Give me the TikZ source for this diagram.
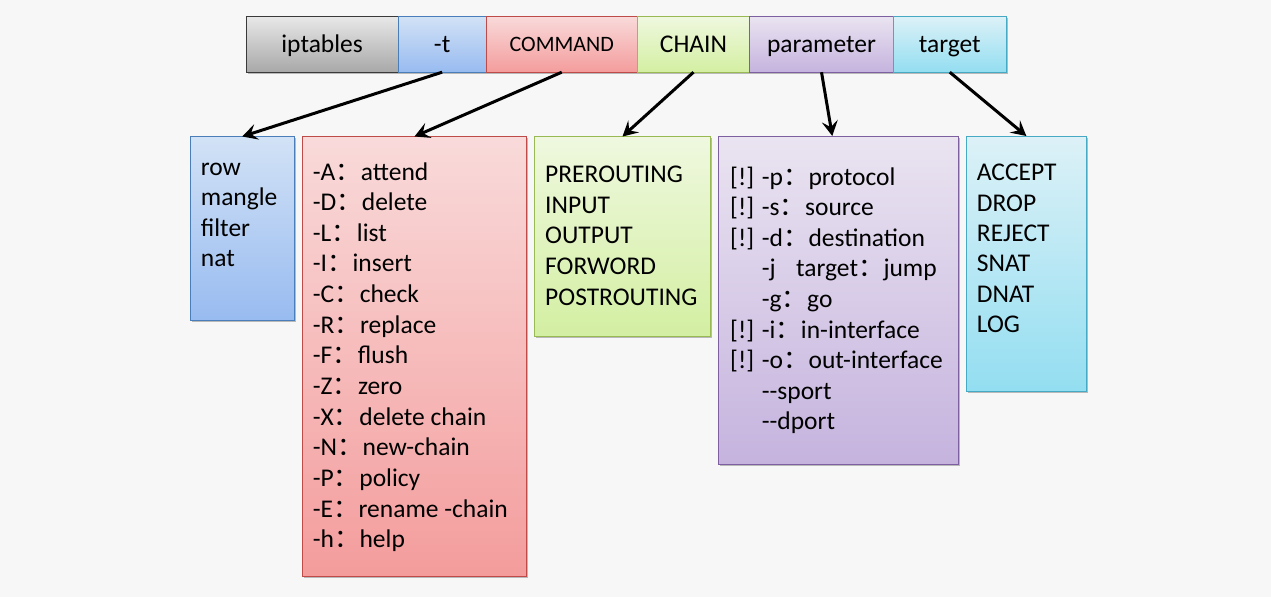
\documentclass[tikz,border=0pt]{standalone}
\usepackage{fontspec}
\setmainfont{Carlito}
\newfontfamily\cjk{Noto Sans CJK SC}
\newcommand\fc{{\cjk ：}}
\usetikzlibrary{arrows.meta,shadows}
\definecolor{bg}{HTML}{F7F7F7}
\definecolor{grT}{HTML}{E8E8E8}\definecolor{grB}{HTML}{A8A8A8}\definecolor{grD}{HTML}{3A3A3A}
\definecolor{blT}{HTML}{D2E2F6}\definecolor{blB}{HTML}{98BBF0}\definecolor{blD}{HTML}{4A7EBB}
\definecolor{rdT}{HTML}{F9DADA}\definecolor{rdB}{HTML}{F49C9C}\definecolor{rdD}{HTML}{BE4B48}
\definecolor{gnT}{HTML}{EFF8DF}\definecolor{gnB}{HTML}{D3EFA2}\definecolor{gnD}{HTML}{98B954}
\definecolor{puT}{HTML}{EAE4F1}\definecolor{puB}{HTML}{C5B3DE}\definecolor{puD}{HTML}{7D60A0}
\definecolor{cyT}{HTML}{DDF1F7}\definecolor{cyB}{HTML}{93DEF1}\definecolor{cyD}{HTML}{46AAC5}
\tikzset{
  box/.style={rectangle, inner sep=0pt, outer sep=0pt, line width=0.9pt,
    drop shadow={shadow xshift=1.5pt, shadow yshift=-1.5pt, opacity=0.25, fill=black}},
  gray box/.style={box, draw=grD, top color=grT, bottom color=grB},
  blue box/.style={box, draw=blD, top color=blT, bottom color=blB},
  red box/.style={box, draw=rdD, top color=rdT, bottom color=rdB},
  green box/.style={box, draw=gnD, top color=gnT, bottom color=gnB},
  purple box/.style={box, draw=puD, top color=puT, bottom color=puB},
  cyan box/.style={box, draw=cyD, top color=cyT, bottom color=cyB},
  head/.style={minimum height=56pt, text height=20pt, text depth=3pt,
    font=\fontsize{25.5}{30}\selectfont},
  line/.style={anchor=base west, inner sep=0pt, font=\fontsize{25.5}{30}\selectfont},
  conn/.style={line width=3pt, -{Stealth[length=15pt,width=16pt,inset=6pt]}},
}
\begin{document}
\begin{tikzpicture}[x=1pt,y=-1pt]
\fill[bg] (0,0) rectangle (1271,597);
\useasboundingbox (0,0) rectangle (1271,597);
% top bar
\node[gray box, head, minimum width=152.3pt] (ipt) at (322.15,44.2) {iptables};
\node[blue box, head, minimum width=87.7pt] (tt) at (442.15,44.2) {-t};
\node[red box, head, minimum width=151.5pt, font=\fontsize{22}{26}\selectfont, text height=18pt, text depth=3pt] (cmd) at (561.75,44.2) {COMMAND};
\node[green box, head, minimum width=112pt] (chain) at (693.5,44.2) {CHAIN};
\node[purple box, head, minimum width=144pt] (par) at (821.5,44.2) {parameter};
\node[cyan box, head, minimum width=112.5pt] (tgt) at (949.75,44.2) {target};
% lower boxes
\node[blue box, minimum width=104.5pt, minimum height=184.2pt] (blue) at (242.25,228.6) {};
\node[red box, minimum width=224.4pt, minimum height=440.2pt] (red) at (414.5,356.6) {};
\node[green box, minimum width=176.4pt, minimum height=199.5pt] (green) at (622.5,236.25) {};
\node[purple box, minimum width=240pt, minimum height=328.3pt] (pur) at (838.3,300.15) {};
\node[cyan box, minimum width=120.7pt, minimum height=255.7pt] (cyan) at (1026.35,263.85) {};
% texts
\foreach \t [count=\i] in {row,mangle,filter,nat}
  \node[line] (b\i) at (200.7,{175+30.6*(\i-1)}) {\t};
\foreach \t [count=\i] in {-A\fc attend,-D\fc delete,-L\fc list,-I\fc insert,-C\fc check,-R\fc replace,-F\fc flush,-Z\fc zero,-X\fc delete chain,-N\fc new-chain,-P\fc policy,-E\fc rename -chain,-h\fc help}
  \node[line] (r\i) at (312.7,{180+30.64*(\i-1)}) {\t};
\foreach \t [count=\i] in {PREROUTING,INPUT,OUTPUT,FORWORD,POSTROUTING}
  \node[line] (g\i) at (545,{182.7+30.6*(\i-1)}) {\t};
\foreach \t [count=\i] in {{[!] -p\fc protocol},{[!] -s\fc source},{[!] -d\fc destination},{\phantom{[!] }-j\hspace{0.8em}target\fc jump},{\phantom{[!] }-g\fc go},{[!] -i\fc in-interface},{[!] -o\fc out-interface},{\phantom{[!] }-{}-sport},{\phantom{[!] }-{}-dport}}
  \node[line] (p\i) at (730,{185+30.6*(\i-1)}) {\t};
\foreach \t [count=\i] in {ACCEPT,DROP,REJECT,SNAT,DNAT,LOG}
  \node[line] (c\i) at (976.7,{180.7+30.4*(\i-1)}) {\t};
% connectors
\draw[conn] (tt.south) -- (blue.north);
\draw[conn] (cmd.south) -- (red.north);
\draw[conn] (chain.south) -- (green.north);
\draw[conn] (par.south) -- ([xshift=-6pt]pur.north);
\draw[conn] (tgt.south) -- (cyan.north);
\end{tikzpicture}
\end{document}
